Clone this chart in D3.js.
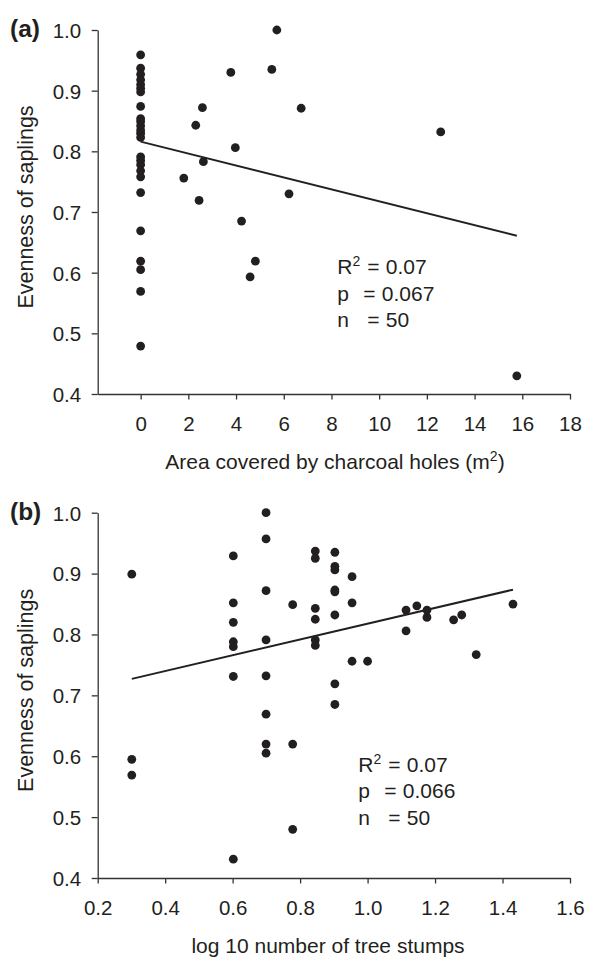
<!DOCTYPE html>
<html>
<head>
<meta charset="utf-8">
<script src="https://cdn.jsdelivr.net/npm/d3@7"></script>
<style>
  body { margin: 0; background: #fff; }
  text { font-family: "Liberation Sans", Arial, sans-serif; fill: #231f20; }
</style>
</head>
<body>
<div id="chart"></div>
<script>
// Panel (a): evenness vs area of charcoal holes
const areaX = [0, 0, 0, 0, 0, 0, 0, 0, 0, 0, 0, 0, 0, 0, 0, 0, 0, 0, 0, 0, 0, 0, 0, 0, 0,
  5.71, 5.50, 3.78, 2.59, 2.31, 3.97, 2.63, 1.81, 2.45, 6.22, 4.23, 4.81, 4.59, 6.73, 12.58, 15.77];
const evennessA = [0.959, 0.937, 0.927, 0.918, 0.910, 0.904, 0.898, 0.874, 0.854, 0.849, 0.842,
  0.835, 0.830, 0.823, 0.791, 0.785, 0.778, 0.768, 0.758, 0.732, 0.669, 0.619, 0.605, 0.569, 0.479,
  1.0, 0.935, 0.930, 0.872, 0.843, 0.806, 0.783, 0.756, 0.719, 0.730, 0.685, 0.619, 0.593, 0.871, 0.832, 0.430];
const fitA = { intercept: 0.816, slope: -0.00983, from: 0, to: 15.77 };
const statsA = ["0.07", "0.067", "50"];
const xTicksA = [0, 2, 4, 6, 8, 10, 12, 14, 16, 18];

// Panel (b): evenness vs log10 number of stumps
const stumpsX = [0.301, 0.301, 0.301,
  0.602, 0.602, 0.602, 0.602, 0.602, 0.602, 0.602,
  0.699, 0.699, 0.699, 0.699, 0.699, 0.699, 0.699, 0.699,
  0.778, 0.778, 0.778,
  0.845, 0.845, 0.845, 0.845, 0.845, 0.845,
  0.903, 0.903, 0.903, 0.903, 0.903, 0.903, 0.903, 0.903,
  0.954, 0.954, 0.954, 1.0, 1.114, 1.114, 1.146, 1.176, 1.176, 1.255, 1.279, 1.322, 1.431];
const evennessB = [0.899, 0.595, 0.569,
  0.929, 0.852, 0.820, 0.788, 0.780, 0.731, 0.431,
  1.0, 0.957, 0.872, 0.791, 0.732, 0.669, 0.620, 0.605,
  0.849, 0.620, 0.480,
  0.937, 0.925, 0.843, 0.825, 0.791, 0.782,
  0.935, 0.912, 0.906, 0.873, 0.870, 0.832, 0.719, 0.685,
  0.895, 0.852, 0.756, 0.756, 0.840, 0.806, 0.847, 0.840, 0.828, 0.824, 0.832, 0.767, 0.850];
const fitB = { intercept: 0.688, slope: 0.1297, from: 0.301, to: 1.431 };
const statsB = ["0.07", "0.066", "50"];
const xTicksB = [0.2, 0.4, 0.6, 0.8, 1.0, 1.2, 1.4, 1.6];

const yTicks = [0.4, 0.5, 0.6, 0.7, 0.8, 0.9, 1.0];
const ink = "#231f20";

const svg = d3.select("#chart")
  .append("svg")
  .attr("width", 597)
  .attr("height", 967);

svg.append("rect").attr("width", 597).attr("height", 967).attr("fill", "#fff");

function drawPanel(p) {
  const x = d3.scaleLinear().domain(p.xDomain).range([97.7, 570]);
  const y = d3.scaleLinear().domain([0.4, 1.0]).range([p.bottom, p.top]);
  const g = svg.append("g");

  // x axis
  const xAxis = g.append("g")
    .attr("transform", `translate(0,${p.bottom})`)
    .call(d3.axisBottom(x).tickValues(p.xTicks).tickSize(5.5).tickSizeOuter(0).tickFormat(p.xFormat));
  xAxis.selectAll("text").attr("y", 36.7).attr("dy", null);

  // y axis
  const yAxis = g.append("g")
    .attr("transform", "translate(97.7,0)")
    .call(d3.axisLeft(y).tickValues(yTicks).tickSize(6).tickSizeOuter(0).tickFormat(d3.format(".1f")));
  yAxis.selectAll("text").attr("x", -16.5).attr("dy", "0.36em");

  [xAxis, yAxis].forEach((a) => {
    a.selectAll("path, line").attr("stroke", "#333").attr("stroke-width", 1.3);
    a.selectAll("text").attr("font-size", 20.5).attr("fill", ink)
      .attr("font-family", "Liberation Sans, Arial, sans-serif");
  });

  // regression line
  g.append("line")
    .attr("x1", x(p.fit.from)).attr("y1", y(p.fit.intercept + p.fit.slope * p.fit.from))
    .attr("x2", x(p.fit.to)).attr("y2", y(p.fit.intercept + p.fit.slope * p.fit.to))
    .attr("stroke", ink).attr("stroke-width", 2);

  // points
  g.selectAll(".dot")
    .data(p.xs.map((v, i) => [v, p.ys[i]]))
    .enter()
    .append("circle")
    .attr("cx", (d) => x(d[0]))
    .attr("cy", (d) => y(d[1]))
    .attr("r", 4.4)
    .attr("fill", ink);

  // panel letter
  g.append("text")
    .attr("x", 10).attr("y", p.top + 7)
    .attr("font-size", 24.5).attr("font-weight", "bold")
    .text(p.letter);

  // y title
  g.append("text")
    .attr("transform", `translate(33,${(p.top + p.bottom) / 2 - 5}) rotate(-90)`)
    .attr("text-anchor", "middle")
    .attr("font-size", 21.5)
    .text("Evenness of saplings");

  // x title
  const xt = g.append("text")
    .attr("x", p.titleX).attr("y", p.bottom + 75)
    .attr("text-anchor", "middle")
    .attr("font-size", 21);
  xt.append("tspan").text(p.xTitle);
  if (p.xTitleSup) {
    xt.append("tspan").attr("font-size", 14).attr("dy", -8).text("2");
    xt.append("tspan").attr("dy", 8).text(")");
  }

  // stats annotation
  const labels = [["R", "2"], ["p", null], ["n", null]];
  labels.forEach((l, i) => {
    const by = p.statY + i * 26.5;
    const t = g.append("text").attr("x", p.statX).attr("y", by).attr("font-size", 21);
    t.append("tspan").text(l[0]);
    if (l[1]) t.append("tspan").attr("font-size", 14).attr("dy", -8).text(l[1]);
    g.append("text").attr("x", p.statX + (i === 1 ? 26 : 30)).attr("y", by).attr("font-size", 21).text("=");
    g.append("text").attr("x", p.statX + (i === 1 ? 44.5 : 48.5)).attr("y", by).attr("font-size", 21).text(p.stats[i]);
  });
}

drawPanel({
  letter: "(a)", top: 30, bottom: 394,
  xDomain: [-1.8, 18], xTicks: xTicksA, xFormat: d3.format("d"),
  xs: areaX, ys: evennessA, fit: fitA, stats: statsA,
  statX: 337.3, statY: 274,
  titleX: 335, xTitle: "Area covered by charcoal holes (m", xTitleSup: true
});

drawPanel({
  letter: "(b)", top: 512.7, bottom: 878,
  xDomain: [0.2, 1.6], xTicks: xTicksB, xFormat: d3.format(".1f"),
  xs: stumpsX, ys: evennessB, fit: fitB, stats: statsB,
  statX: 358.3, statY: 771.7,
  titleX: 328, xTitle: "log 10 number of tree stumps", xTitleSup: false
});
</script>
</body>
</html>
